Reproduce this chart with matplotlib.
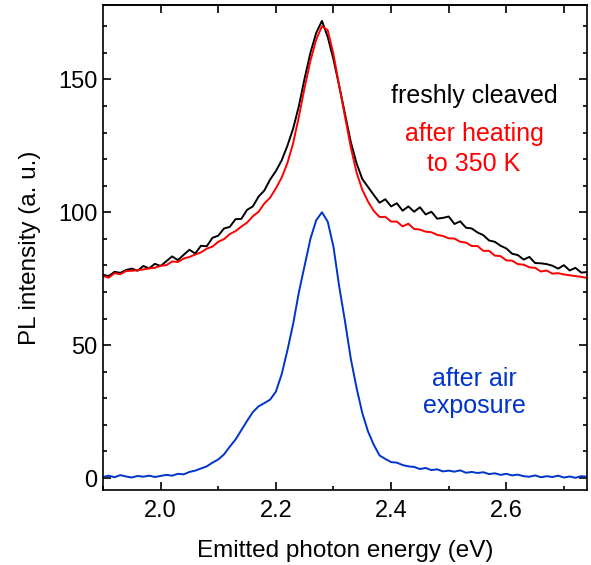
import numpy as np
import matplotlib.pyplot as plt
from matplotlib.ticker import MultipleLocator

plt.rcParams['font.family'] = ['Liberation Sans', 'DejaVu Sans']

# energia de emision (eV), paso 0.01
energia = np.round(np.arange(1.90, 2.7451, 0.01), 2)

# recien clivado (negro)
fresco = [76.5, 76.0, 77.6, 77.2, 78.3, 78.8, 78.0, 79.8, 78.9, 80.6,
          79.8, 81.6, 83.4, 82.0, 84.0, 85.9, 84.5, 87.4, 87.2, 90.4,
          91.2, 93.9, 94.5, 97.4, 97.5, 100.9, 102.2, 105.9, 108.2, 112.3,
          115.5, 119.5, 125.0, 131.5, 140.0, 150.5, 160.0, 167.5, 172.0, 166.0,
          157.5, 147.5, 137.0, 126.5, 118.5, 112.5, 109.5, 106.5, 103.6, 104.9,
          102.2, 103.4, 100.6, 102.2, 100.2, 101.9, 99.2, 100.2, 97.6, 97.9,
          98.4, 95.6, 96.6, 94.2, 93.9, 92.4, 91.4, 89.4, 88.9, 87.4,
          86.4, 84.4, 83.9, 82.2, 83.2, 80.9, 80.8, 80.5, 79.9, 78.8,
          80.1, 78.1, 79.1, 77.3, 77.5]

# despues de calentar a 350 K (rojo)
calentado = [76.0, 75.4, 77.1, 76.7, 77.9, 78.0, 78.2, 78.5, 78.9, 79.1,
             79.9, 80.1, 81.5, 81.3, 82.6, 83.2, 84.1, 84.9, 86.3, 87.1,
             88.9, 89.9, 91.8, 92.9, 94.6, 96.1, 98.5, 100.2, 103.3, 105.5,
             109.0, 113.0, 118.5, 126.0, 136.0, 147.0, 157.0, 165.0, 170.0, 168.5,
             159.5, 147.5, 136.0, 124.5, 115.0, 108.5, 104.0, 100.5, 98.2, 98.3,
             96.5, 96.5, 94.7, 95.7, 93.7, 93.5, 92.7, 92.5, 91.5, 91.1,
             90.2, 90.1, 88.9, 88.6, 87.3, 87.3, 85.5, 85.5, 83.7, 83.5,
             81.9, 81.8, 80.5, 80.3, 79.3, 79.1, 77.7, 78.1, 76.9, 77.1,
             76.6, 76.3, 76.0, 75.7, 75.3]

# despues de exponer al aire (azul)
aire = [0.4, 0.9, 0.3, 1.1, 0.6, 0.2, 0.8, 0.5, 0.9, 0.4,
        0.8, 1.2, 0.9, 1.6, 1.4, 2.3, 2.8, 3.6, 4.4, 5.8,
        7.0, 8.9, 11.8, 14.5, 18.0, 21.5, 24.8, 27.0, 28.2, 29.5,
        32.5, 39.0, 48.0, 58.0, 70.0, 80.0, 90.0, 97.0, 100.0, 96.5,
        87.0, 72.0, 59.0, 45.0, 34.0, 24.5, 17.5, 12.5, 8.5, 7.2,
        6.0, 5.8, 4.9, 4.4, 4.2, 3.4, 3.8, 3.0, 3.3, 2.5,
        2.8, 2.4, 2.9, 2.0, 2.3, 1.9, 2.2, 1.5, 1.8, 1.2,
        1.6, 1.0, 1.3, 0.7, 0.5, 1.0, 0.3, 0.7, 0.4, 0.9,
        0.2, 0.6, 0.1, 0.7, 0.5]

negro = '#000000'
rojo = '#ff0000'
azul = '#0033cc'

fig = plt.figure(figsize=(5.91, 5.65), dpi=100)
ax = fig.add_axes([0.1743, 0.1327, 0.8189, 0.8585])

ax.plot(energia, fresco, color=negro, lw=1.4)
ax.plot(energia, calentado, color=rojo, lw=1.4)
ax.plot(energia, aire, color=azul, lw=1.4)

ax.set_xlim(1.90, 2.74)
ax.set_ylim(-4.5, 178)
ax.xaxis.set_major_locator(MultipleLocator(0.2))
ax.xaxis.set_minor_locator(MultipleLocator(0.1))
ax.yaxis.set_major_locator(MultipleLocator(50))
ax.yaxis.set_minor_locator(MultipleLocator(10))
ax.tick_params(which='both', direction='in', right=True, top=False,
               width=1.2, labelsize=17)
ax.tick_params(which='major', length=5.5)
ax.tick_params(which='minor', length=3)
ax.tick_params(axis='x', pad=7)
ax.tick_params(axis='y', pad=4)

# ticks superiores cada 0.1, todos iguales
arriba = ax.secondary_xaxis('top')
arriba.set_xticks(np.arange(2.0, 2.71, 0.1))
arriba.tick_params(direction='in', length=5.5, width=1.2, labeltop=False)
arriba.spines['top'].set_linewidth(1.2)

for s in ax.spines.values():
    s.set_linewidth(1.2)

ax.set_xlabel('Emitted photon energy (eV)', fontsize=17.5, labelpad=13)
ax.set_ylabel('PL intensity (a. u.)', fontsize=17.5, labelpad=12)

ax.text(2.544, 141, 'freshly cleaved', color=negro, fontsize=18,
        ha='center', va='baseline')
ax.text(2.544, 127, 'after heating', color=rojo, fontsize=18,
        ha='center', va='baseline')
ax.text(2.544, 115.5, 'to 350 K', color=rojo, fontsize=18,
        ha='center', va='baseline')
ax.text(2.544, 34.6, 'after air', color=azul, fontsize=18,
        ha='center', va='baseline')
ax.text(2.544, 24.4, 'exposure', color=azul, fontsize=18,
        ha='center', va='baseline')

fig.savefig('out.png', dpi=100)
